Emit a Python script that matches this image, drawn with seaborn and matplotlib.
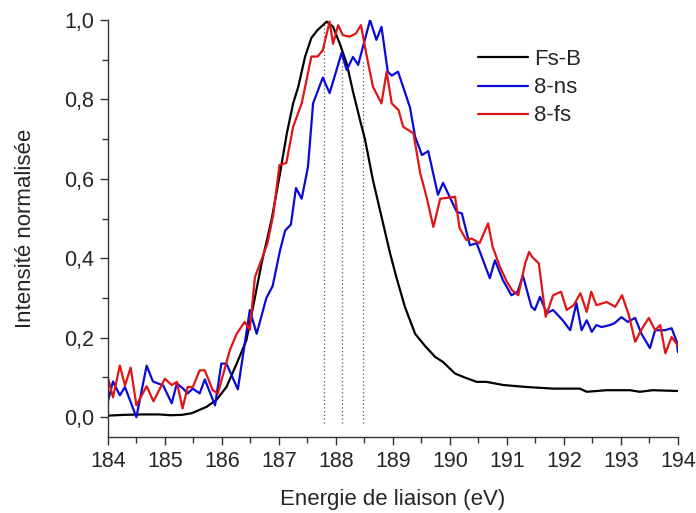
import numpy as np
import pandas as pd
import matplotlib
matplotlib.use("Agg")
import matplotlib.pyplot as plt
from matplotlib.ticker import MultipleLocator, FuncFormatter
import seaborn as sns

# Fs-B reference spectrum (smooth)
fsb_x = [184.0, 184.3, 184.6, 184.9, 185.1, 185.3, 185.47, 185.6, 185.73, 185.9, 186.08,
         186.26, 186.43, 186.55, 186.7, 186.87, 187.02, 187.14, 187.25, 187.34, 187.46,
         187.57, 187.68, 187.84, 187.95, 188.07, 188.19, 188.3, 188.42, 188.51, 188.65,
         188.8, 188.95, 189.06, 189.21, 189.39, 189.56, 189.74, 189.88, 190.09, 190.26,
         190.47, 190.64, 190.94, 191.35, 191.81, 192.28, 192.4, 192.75, 193.16, 193.33,
         193.56, 194.0]
fsb_y = [0.004, 0.006, 0.007, 0.007, 0.005, 0.006, 0.01, 0.018, 0.026, 0.043, 0.076,
         0.135, 0.194, 0.28, 0.39, 0.496, 0.614, 0.715, 0.79, 0.832, 0.908,
         0.955, 0.975, 0.996, 0.983, 0.94, 0.89, 0.82, 0.75, 0.70, 0.597,
         0.505, 0.413, 0.353, 0.278, 0.21, 0.18, 0.152, 0.139, 0.11, 0.10,
         0.089, 0.089, 0.081, 0.076, 0.072, 0.072, 0.064, 0.068, 0.068, 0.064,
         0.068, 0.066]

# 8-ns sample
ns_x = [184.0, 184.09, 184.21, 184.3, 184.5, 184.68, 184.79, 184.97, 185.12, 185.21,
        185.32, 185.4, 185.49, 185.61, 185.7, 185.88, 185.99, 186.08, 186.28, 186.49,
        186.61, 186.78, 186.89, 187.02, 187.11, 187.21, 187.3, 187.4, 187.51, 187.6,
        187.77, 187.89, 188.1, 188.19, 188.3, 188.39, 188.6, 188.71, 188.8, 188.91,
        188.98, 189.09, 189.3, 189.39, 189.51, 189.62, 189.79, 189.88, 190.12, 190.21,
        190.35, 190.47, 190.7, 190.79, 190.93, 191.08, 191.19, 191.28, 191.43, 191.49,
        191.58, 191.7, 191.81, 191.98, 192.11, 192.22, 192.31, 192.4, 192.49, 192.57,
        192.66, 192.81, 192.89, 193.01, 193.12, 193.25, 193.36, 193.51, 193.6, 193.77,
        193.89, 193.98, 194.0]
ns_y = [0.04, 0.09, 0.055, 0.076, 0.0, 0.13, 0.09, 0.08, 0.035, 0.085,
        0.072, 0.06, 0.072, 0.06, 0.095, 0.03, 0.135, 0.135, 0.07, 0.27,
        0.21, 0.30, 0.33, 0.42, 0.47, 0.485, 0.577, 0.55, 0.63, 0.79,
        0.855, 0.816, 0.917, 0.874, 0.907, 0.887, 1.0, 0.95, 0.983, 0.87,
        0.86, 0.87, 0.78, 0.706, 0.66, 0.67, 0.56, 0.59, 0.517, 0.513,
        0.433, 0.438, 0.35, 0.395, 0.345, 0.307, 0.316, 0.357, 0.278, 0.27,
        0.303, 0.262, 0.27, 0.244, 0.219, 0.287, 0.219, 0.244, 0.215, 0.232,
        0.227, 0.232, 0.237, 0.252, 0.24, 0.25, 0.21, 0.174, 0.219, 0.219,
        0.224, 0.19, 0.164]

# 8-fs sample
fs_x = [184.0, 184.09, 184.21, 184.3, 184.4, 184.5, 184.68, 184.8, 185.0, 185.12,
        185.21, 185.31, 185.4, 185.49, 185.61, 185.7, 185.84, 185.93, 186.14, 186.26,
        186.4, 186.49, 186.58, 186.67, 186.8, 186.9, 187.01, 187.13, 187.25, 187.4,
        187.57, 187.68, 187.77, 187.89, 187.95, 188.04, 188.12, 188.24, 188.35, 188.44,
        188.53, 188.65, 188.8, 188.89, 188.98, 189.1, 189.18, 189.36, 189.48, 189.59,
        189.71, 189.83, 190.09, 190.17, 190.29, 190.38, 190.52, 190.67, 190.75, 190.88,
        191.0, 191.09, 191.2, 191.32, 191.39, 191.44, 191.56, 191.68, 191.81, 191.95,
        192.05, 192.17, 192.29, 192.4, 192.48, 192.57, 192.75, 192.9, 193.02, 193.14,
        193.25, 193.37, 193.49, 193.6, 193.69, 193.78, 193.89, 194.0]
fs_y = [0.10, 0.05, 0.13, 0.08, 0.125, 0.03, 0.078, 0.04, 0.097, 0.081,
        0.089, 0.022, 0.076, 0.076, 0.118, 0.118, 0.068, 0.06, 0.169, 0.21,
        0.24, 0.22, 0.353, 0.387, 0.438, 0.509, 0.635, 0.64, 0.731, 0.79,
        0.908, 0.908, 0.924, 0.996, 0.94, 0.987, 0.962, 0.958, 0.966, 0.987,
        0.917, 0.832, 0.79, 0.87, 0.79, 0.773, 0.731, 0.715, 0.614, 0.555,
        0.479, 0.55, 0.555, 0.476, 0.446, 0.45, 0.438, 0.488, 0.429, 0.378,
        0.341, 0.32, 0.307, 0.387, 0.416, 0.404, 0.387, 0.253, 0.307, 0.316,
        0.27, 0.282, 0.312, 0.265, 0.316, 0.282, 0.29, 0.278, 0.307, 0.257,
        0.19, 0.223, 0.25, 0.219, 0.232, 0.161, 0.202, 0.18]

# dotted markers at peak positions
peak_x = [187.8, 188.1, 188.47]
peak_top = [0.99, 0.92, 0.90]

df = pd.concat([
    pd.DataFrame({"E": fsb_x, "I": fsb_y, "sample": "Fs-B"}),
    pd.DataFrame({"E": ns_x, "I": ns_y, "sample": "8-ns"}),
    pd.DataFrame({"E": fs_x, "I": fs_y, "sample": "8-fs"}),
])

sns.set_style("ticks")
plt.rcParams['font.family'] = ['Liberation Sans', 'DejaVu Sans']

fig = plt.figure(figsize=(6.96, 5.13), dpi=100)
ax = fig.add_axes([0.155, 0.148, 0.819, 0.813])

ax.vlines(peak_x, -0.015, peak_top, colors="#555555", linestyles=(0, (1, 2)), linewidth=0.9)

sns.lineplot(data=df, x="E", y="I", hue="sample", sort=False, estimator=None,
             palette={"Fs-B": "black", "8-ns": "#0a0ad8", "8-fs": "#e01515"},
             linewidth=1.6, ax=ax)

ax.set_xlim(184, 194)
ax.set_ylim(-0.05, 1.0)
ax.xaxis.set_major_locator(MultipleLocator(1))
ax.xaxis.set_minor_locator(MultipleLocator(0.5))
ax.yaxis.set_major_locator(MultipleLocator(0.2))
ax.yaxis.set_minor_locator(MultipleLocator(0.1))
ax.yaxis.set_major_formatter(FuncFormatter(lambda v, p: f"{v:.1f}".replace(".", ",")))
ax.xaxis.set_major_formatter(FuncFormatter(lambda v, p: f"{v:.0f}"))
ax.tick_params(which="major", length=6, width=1, color="#333333", labelsize=15.5, pad=4)
ax.tick_params(which="minor", length=4, width=1, color="#333333")
sns.despine(ax=ax)
for s in ["left", "bottom"]:
    ax.spines[s].set_color("#333333")
    ax.spines[s].set_linewidth(1)

ax.set_xlabel("Energie de liaison (eV)", fontsize=16, labelpad=12)
ax.set_ylabel("Intensité normalisée", fontsize=16, labelpad=20)

leg = ax.legend(title=None, frameon=False, fontsize=16, loc="upper left",
                bbox_to_anchor=(0.649, 0.93), borderaxespad=0, borderpad=0,
                handlelength=2.25, handletextpad=0.3, labelspacing=0.32)

fig.savefig("out.png", dpi=100)
